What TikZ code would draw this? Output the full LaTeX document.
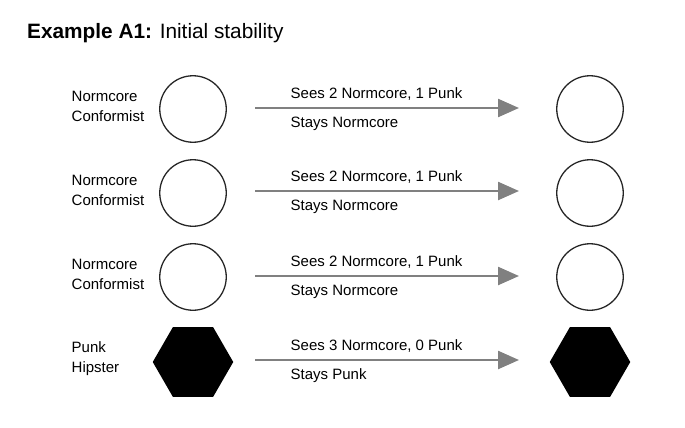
\documentclass[tikz,border=0pt]{standalone}
\usepackage{fontspec}
\setmainfont{Liberation Sans}
\usetikzlibrary{shapes.geometric,arrows.meta}
\begin{document}
\begin{tikzpicture}[x=1pt,y=-1pt,
  agent/.style={circle,draw=black!85,line width=1.3pt,minimum size=66.5pt,inner sep=0pt},
  punk/.style={regular polygon,regular polygon sides=6,fill=black,draw=none,minimum size=80.5pt,inner sep=0pt},
  lbl/.style={anchor=base west,inner sep=0pt,font=\fontsize{15}{18}\selectfont},
  flow/.style={draw=black!50,line width=2.4pt,-{Triangle[length=21pt,width=18pt]}}]
\useasboundingbox (0,0) rectangle (685,428);
\node[anchor=base west,inner sep=0pt,font=\fontsize{20.8}{25}\selectfont] (title) at (27,38.5) {\textbf{Example A1:} Initial stability};
% rows
\foreach \r/\y/\ly in {1/109/108,2/193/191,3/277/276}{
  \node[agent] (l\r) at (193,\y) {};
  \node[agent] (r\r) at (590,\y) {};
  \node[lbl] (n\r) at (71.5,\y-7.5) {Normcore};
  \node[lbl] (c\r) at (71.5,\y+12) {Conformist};
  \coordinate (s\r) at (255,\ly);
  \coordinate (e\r) at (519,\ly);
  \draw[flow] (s\r) -- (e\r);
  \node[lbl] (t\r) at (290.5,\ly-10) {Sees 2 Normcore, 1 Punk};
  \node[lbl] (u\r) at (290.5,\ly+19.5) {Stays Normcore};
}
\node[punk] (l4) at (193,362) {};
\node[punk] (r4) at (590,362) {};
\node[lbl] (n4) at (71.5,352) {Punk};
\node[lbl] (c4) at (71.5,372) {Hipster};
\coordinate (s4) at (255,360);
\coordinate (e4) at (519,360);
\draw[flow] (s4) -- (e4);
\node[lbl] (t4) at (290.5,350) {Sees 3 Normcore, 0 Punk};
\node[lbl] (u4) at (290.5,379.5) {Stays Punk};
\end{tikzpicture}
\end{document}
